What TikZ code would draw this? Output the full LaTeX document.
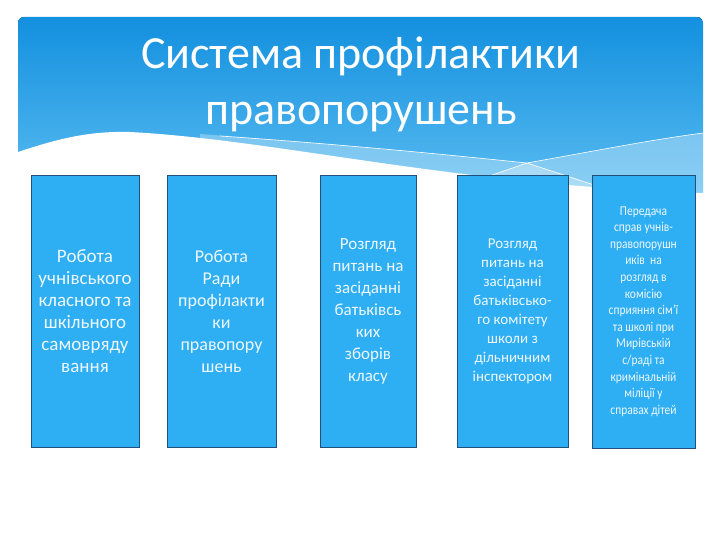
\documentclass[tikz,border=0pt]{standalone}
\usepackage{fontspec}
\setmainfont{Carlito}
\newfontfamily\narrowsans[FakeStretch=0.85]{Carlito}
\usetikzlibrary{positioning}
\definecolor{BannerTop}{HTML}{1390DF}
\definecolor{BannerBottom}{HTML}{5CBDF1}
\definecolor{BoxBlue}{HTML}{2EAEF3}
\definecolor{BoxEdge}{HTML}{1F4F7A}
\definecolor{BoxText}{HTML}{EEF8FF}
\tikzset{
  stage/.style={draw=BoxEdge,line width=0.8pt,fill=BoxBlue,align=center,text=BoxText,
              minimum height=272pt,inner sep=2pt,font=\fontsize{17}{22}\selectfont},
  smallstage/.style={stage,font=\fontsize{15}{19}\selectfont},
  tinystage/.style={stage,font=\narrowsans\fontsize{13.5}{16.6}\selectfont},
  waveline/.style={draw=white,line width=0.6pt},
  heading/.style={text=white,align=center,font=\fontsize{46}{56}\selectfont}
}

\begin{document}
\begin{tikzpicture}[x=1pt,y=-1pt]
  \useasboundingbox (0,0) rectangle (720,540);

  % banner with the wave at its foot
  \begin{scope}
    \clip[rounded corners=6pt] (18,17) rectangle (703,230);
    \fill[top color=BannerTop,bottom color=BannerBottom] (18,17) rectangle (703,200);
    \fill[white,opacity=0.3] (200,134) .. controls (350,145) and (450,155) .. (527,163)
      -- (640,200) -- (200,200) -- cycle;
    \fill[white,opacity=0.3] (420,200) -- (527,163) .. controls (600,150) and (650,140) .. (703,133)
      -- (703,200) -- cycle;
    \draw[waveline] (220,136) .. controls (350,145) and (450,155) .. (527,163) -- (640,200);
    \draw[waveline] (420,200) -- (527,163) .. controls (600,150) and (650,140) .. (703,133);
  \end{scope}
  \fill[white] (10,155) -- (18,152) .. controls (60,138) and (90,131) .. (130,132)
    .. controls (280,140) and (450,185) .. (703,193) -- (712,193) -- (712,240) -- (10,240) -- cycle;

  \node[heading] (title) at (361,84) {Система профілактики\\правопорушень};

  \node[stage,minimum width=108pt,font=\fontsize{19}{22}\selectfont] (pupils) at (85,311)
    {Робота\\учнівського\\класного та\\шкільного\\самовряду\\вання};
  \node[stage,minimum width=109pt,font=\fontsize{18}{22}\selectfont] (council) at (221.5,311)
    {Робота\\Ради\\профілакти\\ки\\правопору\\шень};
  \node[stage,minimum width=96pt] (parents) at (368,311)
    {Розгляд\\питань на\\засіданні\\батьківсь\\ких\\зборів\\класу};
  \node[smallstage,minimum width=111pt] (committee) at (512.5,311)
    {Розгляд\\питань на\\засіданні\\батьківсько-\\го комітету\\школи з\\дільничним\\інспектором};
  \node[tinystage,minimum width=103pt,minimum height=273pt] (transfer) at (643.5,311.5)
    {Передача\\справ учнів-\\правопорушн\\иків\ \ на\\розгляд в\\комісію\\сприяння сім’ї\\та школі при\\Мирівській\\с/раді та\\кримінальній\\міліції у\\справах дітей};
\end{tikzpicture}
\end{document}
